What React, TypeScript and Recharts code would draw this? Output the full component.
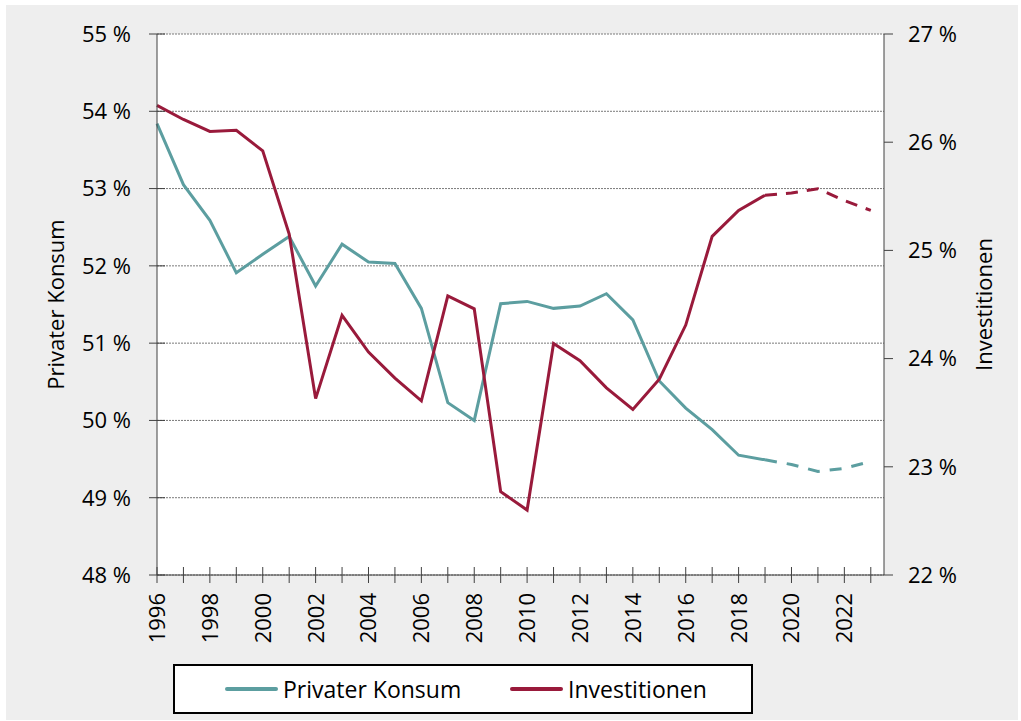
import React from "react";
import { LineChart, Line, XAxis, YAxis, CartesianGrid } from "recharts";

// Anteile am BIP, 1996–2023 (ab 2019 Prognose, gestrichelt)
const years = [
  1996, 1997, 1998, 1999, 2000, 2001, 2002, 2003, 2004, 2005, 2006, 2007, 2008, 2009,
  2010, 2011, 2012, 2013, 2014, 2015, 2016, 2017, 2018, 2019, 2020, 2021, 2022, 2023,
];
const privaterKonsum = [
  53.84, 53.05, 52.59, 51.91, 52.15, 52.38, 51.74, 52.28, 52.05, 52.03, 51.45, 50.23, 50.0, 51.51,
  51.54, 51.45, 51.48, 51.64, 51.3, 50.51, 50.16, 49.88, 49.55, 49.49, 49.43, 49.34, 49.38, 49.47,
];
const investitionen = [
  26.34, 26.21, 26.1, 26.11, 25.92, 25.15, 23.63, 24.4, 24.06, 23.82, 23.61, 24.58, 24.46, 22.77,
  22.6, 24.14, 23.98, 23.73, 23.53, 23.81, 24.31, 25.13, 25.37, 25.51, 25.53, 25.57, 25.46, 25.37,
];
const prognoseAb = 2019;
const leftTicks = [48, 49, 50, 51, 52, 53, 54, 55];
const rightTicks = [22, 23, 24, 25, 26, 27];

const TEAL = "#5c9ea0";
const WINE = "#991a3b";
const AXIS = "#404040";
const FONT = "'Open Sans', sans-serif";

const data = years.map((year, i) => ({
  year,
  konsum: year <= prognoseAb ? privaterKonsum[i] : null,
  konsumPrognose: year >= prognoseAb ? privaterKonsum[i] : null,
  invest: year <= prognoseAb ? investitionen[i] : null,
  investPrognose: year >= prognoseAb ? investitionen[i] : null,
}));

function YearTick(props: any) {
  const { x, y, payload } = props;
  const axisY = y - 18;
  const year = payload.value as number;
  return (
    <g>
      <line x1={x} x2={x} y1={axisY - 8} y2={axisY + 8} stroke={AXIS} strokeWidth={1} />
      {year % 2 === 0 && (
        <text
          x={x}
          y={y}
          dy="0.36em"
          transform={`rotate(-90 ${x} ${y})`}
          textAnchor="end"
          fontSize={22}
          fontFamily={FONT}
          fill="#000"
        >
          {year}
        </text>
      )}
    </g>
  );
}

function LeftTick(props: any) {
  const { x, y, payload } = props;
  const axisX = x + 26;
  return (
    <g>
      <line x1={axisX - 8} x2={axisX + 8} y1={y} y2={y} stroke={AXIS} strokeWidth={1} />
      <text x={x} y={y} dy="0.36em" textAnchor="end" fontSize={22} fontFamily={FONT} fill="#000">
        {`${payload.value} %`}
      </text>
    </g>
  );
}

function LegendBox() {
  const item = (left: number, color: string, label: string) => (
    <div style={{ position: "absolute", left, top: 0, height: 46, display: "flex", alignItems: "center" }}>
      <div style={{ width: 53, height: 4, background: color, borderRadius: 2, marginRight: 5 }} />
      <span style={{ fontFamily: FONT, fontSize: 23, color: "#000", whiteSpace: "nowrap" }}>{label}</span>
    </div>
  );
  return (
    <div
      style={{
        position: "absolute",
        left: 167,
        top: 659,
        width: 576,
        height: 46,
        border: "2px solid #000",
        background: "#fff",
      }}
    >
      {item(50, TEAL, "Privater Konsum")}
      {item(335, WINE, "Investitionen")}
    </div>
  );
}

export default function App() {
  return (
    <div style={{ position: "absolute", left: 0, top: 0, width: 1021, height: 721, background: "#fff" }}>
      <div style={{ position: "absolute", left: 6, top: 5, width: 1012, height: 715, background: "#eeeeee" }}>
        <LineChart width={1012} height={715} data={data} margin={{ top: 29, right: 0, bottom: 0, left: 0 }}>
          <CartesianGrid
            yAxisId="left"
            vertical={false}
            stroke="#7a7a7a"
            strokeDasharray="2 1"
            fill="#fff"
          />
          <XAxis
            dataKey="year"
            type="number"
            domain={[1996, 2023.5]}
            ticks={years}
            interval={0}
            height={145}
            tickSize={8}
            tickMargin={10}
            tickLine={false}
            tick={<YearTick />}
            axisLine={{ stroke: AXIS, strokeWidth: 1 }}
          />
          <YAxis
            yAxisId="left"
            orientation="left"
            width={151}
            domain={[48, 55]}
            ticks={leftTicks}
            interval={0}
            tickSize={8}
            tickMargin={18}
            tickLine={false}
            tick={<LeftTick />}
            axisLine={{ stroke: AXIS, strokeWidth: 1 }}
            label={{
              value: "Privater Konsum",
              angle: -90,
              position: "center",
              dx: -25,
              style: { fontFamily: FONT, fontSize: 22, fill: "#000" },
            }}
          />
          <YAxis
            yAxisId="right"
            orientation="right"
            width={134}
            domain={[22, 27]}
            ticks={rightTicks}
            interval={0}
            tickSize={9}
            tickMargin={15}
            tickFormatter={(v: number) => `${v} %`}
            tick={{ fontSize: 22, fontFamily: FONT, fill: "#000" }}
            tickLine={{ stroke: AXIS }}
            axisLine={{ stroke: AXIS, strokeWidth: 1 }}
            label={{
              value: "Investitionen",
              angle: -90,
              position: "center",
              dx: 33,
              style: { fontFamily: FONT, fontSize: 22, fill: "#000" },
            }}
          />
          <Line yAxisId="left" dataKey="konsum" stroke={TEAL} strokeWidth={3} dot={false} isAnimationActive={false} />
          <Line
            yAxisId="left"
            dataKey="konsumPrognose"
            stroke={TEAL}
            strokeWidth={3}
            strokeDasharray="12 10"
            dot={false}
            isAnimationActive={false}
          />
          <Line yAxisId="right" dataKey="invest" stroke={WINE} strokeWidth={3} dot={false} isAnimationActive={false} />
          <Line
            yAxisId="right"
            dataKey="investPrognose"
            stroke={WINE}
            strokeWidth={3}
            strokeDasharray="12 9"
            dot={false}
            isAnimationActive={false}
          />
        </LineChart>
        <LegendBox />
      </div>
    </div>
  );
}
